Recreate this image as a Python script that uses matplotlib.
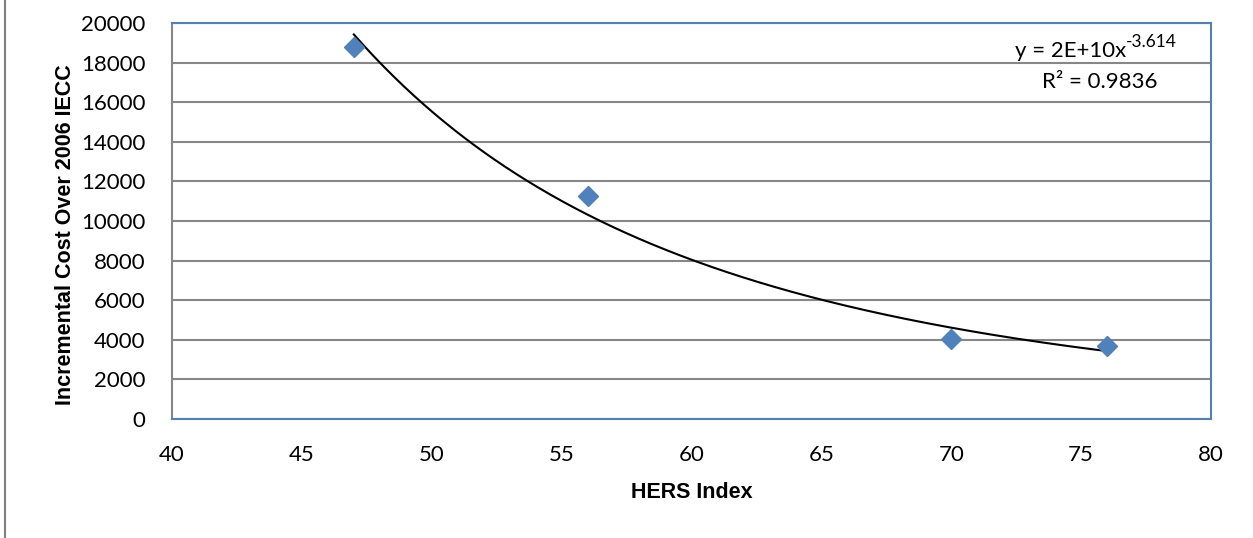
import matplotlib
matplotlib.use("Agg")
import matplotlib.pyplot as plt
from matplotlib.lines import Line2D
import numpy as np

# HERS index vs incremental cost
hers = [47, 56, 70, 76]
cost = [18800, 11250, 4050, 3700]
x_ticks = [40, 45, 50, 55, 60, 65, 70, 75, 80]
y_ticks = [0, 2000, 4000, 6000, 8000, 10000, 12000, 14000, 16000, 18000, 20000]

plt.rcParams['font.family'] = ['Lato', 'DejaVu Sans']

blue = "#4F81BD"
grid_gray = "#878787"
bold_font = ['Liberation Sans', 'DejaVu Sans']

fig = plt.figure(figsize=(12.53, 5.38), dpi=100)
ax = fig.add_axes([172 / 1253, 1 - 419 / 538, (1211 - 172) / 1253, (419 - 23) / 538])

# power trendline fitted in log space
b, ln_a = np.polyfit(np.log(hers), np.log(cost), 1)
xs = np.linspace(min(hers), max(hers), 300)
ax.plot(xs, np.exp(ln_a) * xs ** b, color="black", linewidth=1.5, zorder=3)

ax.plot(hers, cost, linestyle="none", marker="D", markersize=10,
        color=blue, markeredgecolor=blue, zorder=4)

ax.set_xlim(40, 80)
ax.set_ylim(0, 20000)
ax.set_xticks(x_ticks)
ax.set_yticks(y_ticks)
ax.tick_params(axis="both", length=0, labelsize=16, pad=19)
ax.yaxis.grid(True, color=grid_gray, linewidth=1.5)
ax.set_axisbelow(True)

for side in ("top", "right", "bottom"):
    ax.spines[side].set_color(blue)
    ax.spines[side].set_linewidth(1.5)
ax.spines["left"].set_color(grid_gray)
ax.spines["left"].set_linewidth(1.5)

ax.set_xlabel("HERS Index", fontsize=15.5, fontweight="bold", family=bold_font, labelpad=12)
ax.set_ylabel("Incremental Cost Over 2006 IECC", fontsize=15.5, fontweight="bold",
              family=bold_font, labelpad=4)
ax.yaxis.label.set_y(0.465)

# trendline equation
eq = ax.text(0.865, 0.93, "y = 2E+10x", transform=ax.transAxes,
             ha="center", va="center", fontsize=16)
ax.annotate("-3.614", xy=(1, 0.55), xycoords=eq, ha="left", va="bottom", fontsize=12.5)
ax.text(0.893, 0.85, "R² = 0.9836", transform=ax.transAxes,
        ha="center", va="center", fontsize=16)

# left border of chart area
fig.add_artist(Line2D([5 / 1253, 5 / 1253], [0, 1], transform=fig.transFigure,
                      color="#7f7f7f", linewidth=1.5))

fig.savefig("out.png", dpi=100)
